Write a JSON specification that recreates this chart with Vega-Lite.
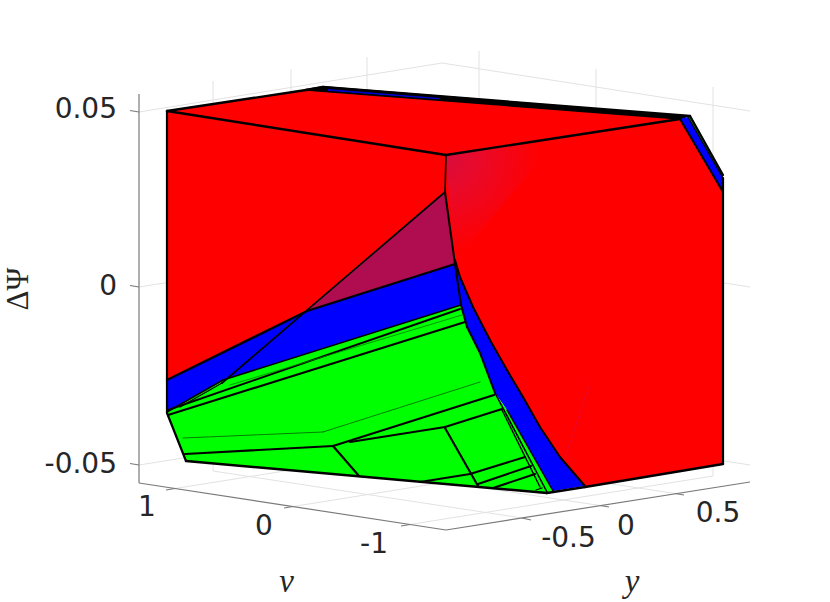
{
"$schema":"https://vega.github.io/schema/vega-lite/v6.json",
"autosize":{"type":"none"},"padding":0,"width":830,"height":602,"background":"white",
"config":{"view":{"stroke":null}},
"datasets":{
"grid":[
{"a":139,"b":112,"c":442,"d":63},{"a":442,"b":63,"c":750,"d":111},
{"a":139,"b":287,"c":442,"d":239},{"a":442,"b":239,"c":750,"d":287},
{"a":139,"b":465,"c":442,"d":417},{"a":442,"b":417,"c":750,"d":465},
{"a":213,"b":81,"c":213,"d":471},{"a":291,"b":69,"c":291,"d":459},{"a":367,"b":57,"c":367,"d":447},
{"a":479,"b":51,"c":479,"d":440},{"a":596,"b":69,"c":596,"d":458},{"a":713,"b":87,"c":713,"d":476},
{"a":175,"b":488.5,"c":479,"d":440},{"a":293,"b":506.5,"c":596,"d":458},{"a":410,"b":524.5,"c":713,"d":476},
{"a":675,"b":493.5,"c":367,"d":447},{"a":600,"b":505.5,"c":291,"d":459},{"a":522,"b":518,"c":213,"d":471}
],
"axes":[
{"a":139,"b":94,"c":139,"d":483},{"a":139,"b":483,"c":446,"d":530},{"a":446,"b":530,"c":750,"d":482},
{"a":130,"b":110.5,"c":139,"d":112},{"a":130,"b":285.5,"c":139,"d":287},{"a":130,"b":463.5,"c":139,"d":465},
{"a":175,"b":488.5,"c":166,"d":490},{"a":293,"b":506.5,"c":284,"d":508},{"a":410,"b":524.5,"c":401,"d":526},
{"a":675,"b":493.5,"c":684,"d":495},{"a":600,"b":505.5,"c":609,"d":507},{"a":522,"b":518,"c":531,"d":520}
],
"faces":[
{"f":"01back","k":"#000000","i":0,"x":305,"y":89},{"f":"01back","k":"#000000","i":1,"x":323,"y":86},{"f":"01back","k":"#000000","i":2,"x":690,"y":116},{"f":"01back","k":"#000000","i":3,"x":680,"y":120},{"f":"01back","k":"#000000","i":4,"x":308,"y":91},
{"f":"02backblue","k":"#0000c8","i":0,"x":328,"y":89},{"f":"02backblue","k":"#0000c8","i":1,"x":440,"y":98},{"f":"02backblue","k":"#0000c8","i":2,"x":440,"y":99.5},{"f":"02backblue","k":"#0000c8","i":3,"x":328,"y":91},
{"f":"03top","k":"#ff0000","i":0,"x":167,"y":111},{"f":"03top","k":"#ff0000","i":1,"x":306,"y":90},{"f":"03top","k":"#ff0000","i":2,"x":680,"y":119},{"f":"03top","k":"#ff0000","i":3,"x":446,"y":155},
{"f":"04left","k":"#ff0000","i":0,"x":167,"y":111},{"f":"04left","k":"#ff0000","i":1,"x":446,"y":155},{"f":"04left","k":"#ff0000","i":2,"x":445,"y":192},{"f":"04left","k":"#ff0000","i":3,"x":307,"y":311},{"f":"04left","k":"#ff0000","i":4,"x":167,"y":380},
{"f":"05tri","k":"#b00c50","i":0,"x":445,"y":192},{"f":"05tri","k":"#b00c50","i":1,"x":455,"y":264},{"f":"05tri","k":"#b00c50","i":2,"x":307,"y":311},
{"f":"06right","k":"#ff0000","i":0,"x":446,"y":155},{"f":"06right","k":"#ff0000","i":1,"x":680,"y":119},{"f":"06right","k":"#ff0000","i":2,"x":723,"y":192},{"f":"06right","k":"#ff0000","i":3,"x":723,"y":464},{"f":"06right","k":"#ff0000","i":4,"x":585,"y":487},{"f":"06right","k":"#ff0000","i":5,"x":560,"y":457},{"f":"06right","k":"#ff0000","i":6,"x":540,"y":427},{"f":"06right","k":"#ff0000","i":7,"x":523,"y":397},{"f":"06right","k":"#ff0000","i":8,"x":507,"y":370},{"f":"06right","k":"#ff0000","i":9,"x":490,"y":340},{"f":"06right","k":"#ff0000","i":10,"x":473,"y":307},{"f":"06right","k":"#ff0000","i":11,"x":460,"y":277},{"f":"06right","k":"#ff0000","i":12,"x":455,"y":260},{"f":"06right","k":"#ff0000","i":13,"x":445,"y":192},
{"f":"09blueL","k":"#0000ff","i":0,"x":167,"y":380},{"f":"09blueL","k":"#0000ff","i":1,"x":307,"y":311},{"f":"09blueL","k":"#0000ff","i":2,"x":455,"y":264},{"f":"09blueL","k":"#0000ff","i":3,"x":461,"y":305},{"f":"09blueL","k":"#0000ff","i":4,"x":223,"y":380},{"f":"09blueL","k":"#0000ff","i":5,"x":167,"y":412},
{"f":"10blueS","k":"#0000ff","i":0,"x":455,"y":262},{"f":"10blueS","k":"#0000ff","i":1,"x":460,"y":277},{"f":"10blueS","k":"#0000ff","i":2,"x":473,"y":307},{"f":"10blueS","k":"#0000ff","i":3,"x":490,"y":340},{"f":"10blueS","k":"#0000ff","i":4,"x":507,"y":370},{"f":"10blueS","k":"#0000ff","i":5,"x":523,"y":397},{"f":"10blueS","k":"#0000ff","i":6,"x":540,"y":427},{"f":"10blueS","k":"#0000ff","i":7,"x":560,"y":457},{"f":"10blueS","k":"#0000ff","i":8,"x":585,"y":486},{"f":"10blueS","k":"#0000ff","i":9,"x":553,"y":491},{"f":"10blueS","k":"#0000ff","i":10,"x":507,"y":410},{"f":"10blueS","k":"#0000ff","i":11,"x":495,"y":393},{"f":"10blueS","k":"#0000ff","i":12,"x":480,"y":353},{"f":"10blueS","k":"#0000ff","i":13,"x":467,"y":327},{"f":"10blueS","k":"#0000ff","i":14,"x":461,"y":305},
{"f":"11green","k":"#00ff00","i":0,"x":167,"y":412},{"f":"11green","k":"#00ff00","i":1,"x":223,"y":380},{"f":"11green","k":"#00ff00","i":2,"x":461,"y":305},{"f":"11green","k":"#00ff00","i":3,"x":467,"y":327},{"f":"11green","k":"#00ff00","i":4,"x":480,"y":353},{"f":"11green","k":"#00ff00","i":5,"x":495,"y":393},{"f":"11green","k":"#00ff00","i":6,"x":507,"y":410},{"f":"11green","k":"#00ff00","i":7,"x":553,"y":491},{"f":"11green","k":"#00ff00","i":8,"x":547,"y":493},{"f":"11green","k":"#00ff00","i":9,"x":186,"y":461},
{"f":"12blueR","k":"#0000ff","i":0,"x":680,"y":119},{"f":"12blueR","k":"#0000ff","i":1,"x":688,"y":117},{"f":"12blueR","k":"#0000ff","i":2,"x":723,"y":178},{"f":"12blueR","k":"#0000ff","i":3,"x":723,"y":192},
{"f":"13greenR","k":"#00a000","i":0,"x":688,"y":117},{"f":"13greenR","k":"#00a000","i":1,"x":691,"y":116},{"f":"13greenR","k":"#00a000","i":2,"x":723,"y":175},{"f":"13greenR","k":"#00a000","i":3,"x":723,"y":178}
],
"tint":[
{"i":0,"x":446,"y":155},{"i":1,"x":560,"y":137},{"i":2,"x":454,"y":262}
],
"edges":[
{"a":167,"b":111,"c":306,"d":90,"w":2.4,"s":"#000000"},{"a":306,"b":90,"c":323,"d":87,"w":2.4,"s":"#000000"},{"a":323,"b":87,"c":690,"d":116,"w":2.4,"s":"#000000"},
{"a":306,"b":90,"c":680,"d":119,"w":1.6,"s":"#000000"},
{"a":167,"b":111,"c":446,"d":155,"w":2.4,"s":"#000000"},{"a":446,"b":155,"c":680,"d":119,"w":2.4,"s":"#000000"},
{"a":167,"b":111,"c":167,"d":413,"w":2.2,"s":"#000000"},{"a":167,"b":413,"c":186,"d":461,"w":2.2,"s":"#000000"},
{"a":186,"b":461,"c":547,"d":493,"w":2.5,"s":"#000000"},{"a":547,"b":493,"c":585,"d":487,"w":2.5,"s":"#000000"},{"a":585,"b":487,"c":723,"d":464,"w":2.5,"s":"#000000"},
{"a":723,"b":464,"c":723,"d":178,"w":2.2,"s":"#000000"},{"a":723,"b":175,"c":690,"d":116,"w":2.2,"s":"#000000"},{"a":680,"b":119,"c":723,"d":192,"w":2,"s":"#000000"},{"a":688,"b":117,"c":723,"d":178,"w":1.3,"s":"#000000"},
{"a":446,"b":155,"c":445,"d":192,"w":1.6,"s":"#000000"},{"a":445,"b":192,"c":455,"d":264,"w":2,"s":"#000000"},{"a":455,"b":264,"c":461,"d":305,"w":2,"s":"#000000"},
{"a":445,"b":192,"c":222,"d":383,"w":1.7,"s":"#000000"},{"a":222,"b":383,"c":180,"d":407,"w":1.3,"s":"#000000"},
{"a":167,"b":380,"c":307,"d":311,"w":2.3,"s":"#000000"},{"a":307,"b":311,"c":455,"d":264,"w":2.3,"s":"#000000"},
{"a":455,"b":260,"c":460,"d":277,"w":2,"s":"#000000"},{"a":460,"b":277,"c":473,"d":307,"w":2,"s":"#000000"},{"a":473,"b":307,"c":490,"d":340,"w":2,"s":"#000000"},{"a":490,"b":340,"c":507,"d":370,"w":2,"s":"#000000"},{"a":507,"b":370,"c":523,"d":397,"w":2,"s":"#000000"},{"a":523,"b":397,"c":540,"d":427,"w":2,"s":"#000000"},{"a":540,"b":427,"c":560,"d":457,"w":2,"s":"#000000"},{"a":560,"b":457,"c":585,"d":486,"w":2,"s":"#000000"},
{"a":461,"b":305,"c":467,"d":327,"w":2,"s":"#000000"},{"a":467,"b":327,"c":480,"d":353,"w":2,"s":"#000000"},{"a":480,"b":353,"c":495,"d":393,"w":2,"s":"#000000"},{"a":495,"b":393,"c":547,"d":492,"w":1.6,"s":"#000000"},{"a":507,"b":410,"c":553,"d":491,"w":1.4,"s":"#000000"},{"a":502,"b":410,"c":540,"d":487,"w":1.4,"s":"#000000"},
{"a":167,"b":412,"c":223,"d":380,"w":1.6,"s":"#000000"},{"a":223,"b":380,"c":461,"d":305,"w":1.6,"s":"#000000"},
{"a":168,"b":410,"c":460,"d":309,"w":2,"s":"#000000"},{"a":168,"b":415,"c":465,"d":322,"w":2.2,"s":"#000000"},
{"a":230,"b":385,"c":462,"d":315,"w":0.8,"s":"#008000"},{"a":183,"b":438,"c":323,"d":432,"w":0.8,"s":"#006000"},{"a":323,"b":432,"c":480,"d":382,"w":0.8,"s":"#006000"},
{"a":185,"b":454,"c":333,"d":446,"w":2.2,"s":"#000000"},{"a":333,"b":446,"c":494,"d":395,"w":2.2,"s":"#000000"},{"a":350,"b":442,"c":445,"d":427,"w":2.2,"s":"#000000"},{"a":445,"b":427,"c":502,"d":409,"w":2.2,"s":"#000000"},
{"a":333,"b":446,"c":359,"d":476,"w":2.2,"s":"#000000"},{"a":445,"b":428,"c":478,"d":486,"w":2.2,"s":"#000000"},
{"a":420,"b":482,"c":470,"d":474,"w":2,"s":"#000000"},{"a":470,"b":474,"c":525,"d":457,"w":2,"s":"#000000"},{"a":478,"b":484,"c":531,"d":466,"w":2,"s":"#000000"},{"a":493,"b":488,"c":535,"d":474,"w":2,"s":"#000000"},{"a":536,"b":490,"c":542,"d":488,"w":1.3,"s":"#000000"},
{"a":590,"b":383,"c":565,"d":458,"w":0.8,"s":"#e00c38"}
],
"ticks":[
{"x":117,"y":110,"t":"0.05"},{"x":117,"y":287,"t":"0"},{"x":117,"y":465,"t":"-0.05"}
],
"ticksC":[
{"x":147,"y":508,"t":"1"},{"x":264,"y":527,"t":"0"},{"x":374,"y":545,"t":"-1"},
{"x":568.5,"y":539,"t":"-0.5"},{"x":626,"y":527,"t":"0"},{"x":718,"y":514,"t":"0.5"}
],
"titles":[{"x":286.5,"y":592,"t":"v"},{"x":632,"y":592,"t":"y"}],
"ztitle":[{"x":28,"y":289,"t":"ΔΨ"}]
},
"layer":[
{"data":{"name":"grid"},"mark":{"type":"rule","stroke":"#e2e2e2","strokeWidth":1},
 "encoding":{"x":{"field":"a","type":"quantitative","scale":{"domain":[0,830],"nice":false,"zero":false},"axis":null},"y":{"field":"b","type":"quantitative","scale":{"domain":[602,0],"nice":false,"zero":false},"axis":null},"x2":{"field":"c"},"y2":{"field":"d"}}},
{"data":{"name":"axes"},"mark":{"type":"rule","stroke":"#7a7a7a","strokeWidth":1.2},
 "encoding":{"x":{"field":"a","type":"quantitative"},"y":{"field":"b","type":"quantitative"},"x2":{"field":"c"},"y2":{"field":"d"}}},
{"data":{"name":"faces"},"mark":{"type":"line","strokeWidth":0},
 "encoding":{"x":{"field":"x","type":"quantitative"},"y":{"field":"y","type":"quantitative"},"order":{"field":"i","type":"ordinal"},"detail":{"field":"f"},"fill":{"field":"k","type":"nominal","scale":null}}},
{"data":{"name":"tint"},"mark":{"type":"line","strokeWidth":0,"fill":{"gradient":"radial","x1":0,"y1":0.14,"r1":0,"x2":0,"y2":0.14,"r2":0.8,"stops":[{"offset":0,"color":"#d60c40"},{"offset":0.35,"color":"#e80a2c"},{"offset":1,"color":"#ff0000"}]}},
 "encoding":{"x":{"field":"x","type":"quantitative"},"y":{"field":"y","type":"quantitative"},"order":{"field":"i","type":"ordinal"}}},
{"data":{"name":"edges"},"mark":{"type":"rule","strokeCap":"round"},
 "encoding":{"x":{"field":"a","type":"quantitative"},"y":{"field":"b","type":"quantitative"},"x2":{"field":"c"},"y2":{"field":"d"},"strokeWidth":{"field":"w","type":"quantitative","scale":null},"color":{"field":"s","type":"nominal","scale":null}}},
{"data":{"name":"ticks"},"mark":{"type":"text","font":"DejaVu Sans","fontSize":28,"align":"right","baseline":"middle","fill":"#262626"},
 "encoding":{"x":{"field":"x","type":"quantitative"},"y":{"field":"y","type":"quantitative"},"text":{"field":"t"}}},
{"data":{"name":"ticksC"},"mark":{"type":"text","font":"DejaVu Sans","fontSize":28,"align":"center","baseline":"middle","fill":"#262626"},
 "encoding":{"x":{"field":"x","type":"quantitative"},"y":{"field":"y","type":"quantitative"},"text":{"field":"t"}}},
{"data":{"name":"titles"},"mark":{"type":"text","font":"Liberation Serif","fontStyle":"italic","fontSize":33,"align":"center","baseline":"alphabetic","fill":"#262626"},
 "encoding":{"x":{"field":"x","type":"quantitative"},"y":{"field":"y","type":"quantitative"},"text":{"field":"t"}}},
{"data":{"name":"ztitle"},"mark":{"type":"text","font":"Liberation Serif","fontSize":31,"align":"center","baseline":"alphabetic","angle":270,"fill":"#262626"},
 "encoding":{"x":{"field":"x","type":"quantitative"},"y":{"field":"y","type":"quantitative"},"text":{"field":"t"}}}
]
}
